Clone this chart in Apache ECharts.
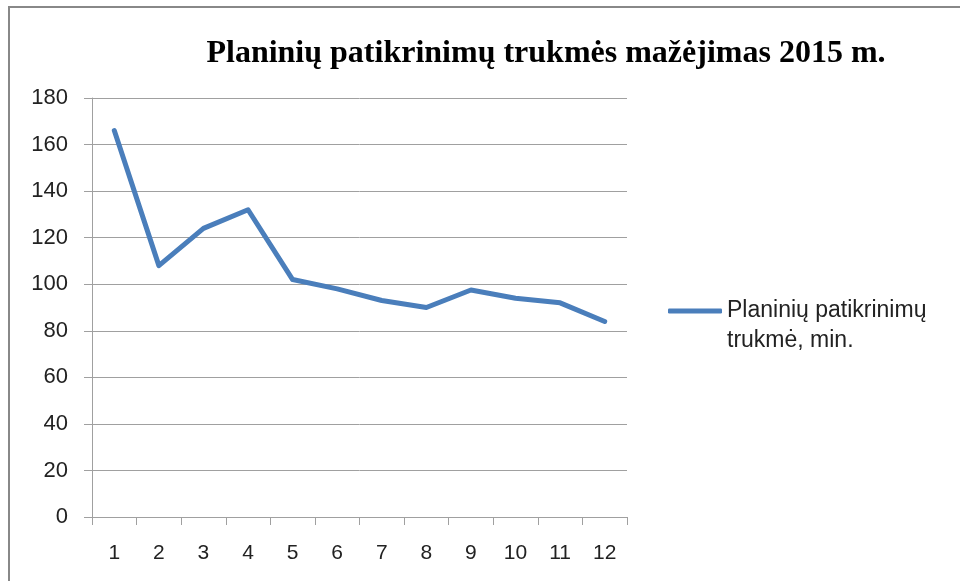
<!DOCTYPE html>
<html>
<head>
<meta charset="utf-8">
<script src="https://cdn.jsdelivr.net/npm/echarts@6/dist/echarts.min.js"></script>
<style>
  html, body { margin: 0; padding: 0; background: #fff; }
  #chart { width: 960px; height: 581px; }
</style>
</head>
<body>
<div id="chart"></div>
<script>
var months = ['1', '2', '3', '4', '5', '6', '7', '8', '9', '10', '11', '12'];
var durations = [166, 108, 124, 132, 102, 98, 93, 90, 97.5, 94, 92, 84];
var seriesName = 'Planinių patikrinimų trukmė, min.';
var titleText = 'Planinių patikrinimų trukmės mažėjimas 2015 m.';

var gray = '#a0a0a0',
    labelColor = '#222',
    lineColor = '#4a7ebb';

var chart = echarts.init(document.getElementById('chart'));

chart.setOption({
    animation: false,
    title: {
        text: titleText,
        left: 541,
        textAlign: 'center',
        top: 33,
        textStyle: {
            fontFamily: 'Liberation Serif',
            fontWeight: 'bold',
            fontSize: 32,
            color: '#000'
        }
    },
    graphic: [{
        type: 'rect',
        shape: { x: 9, y: 7, width: 1000, height: 700 },
        style: { fill: 'none', stroke: '#888', lineWidth: 2 },
        silent: true
    }],
    legend: {
        data: [seriesName],
        left: 668,
        top: 266,
        padding: 0,
        icon: 'roundRect',
        itemWidth: 54,
        itemHeight: 5,
        itemGap: 4,
        itemStyle: { color: lineColor },
        formatter: function() {
            // blank first line keeps the first text line level with the icon
            return ' \nPlaninių patikrinimų\ntrukmė, min.';
        },
        textStyle: {
            fontFamily: 'Liberation Sans',
            fontSize: 23,
            lineHeight: 30,
            color: labelColor
        }
    },
    grid: {
        left: 92,
        right: 333,
        top: 98,
        bottom: 64
    },
    xAxis: {
        type: 'category',
        data: months,
        boundaryGap: true,
        axisLine: { lineStyle: { color: gray, width: 1 } },
        axisTick: { show: true, length: 8, lineStyle: { color: gray } },
        axisLabel: {
            margin: 26,
            fontFamily: 'Liberation Sans',
            fontSize: 21,
            color: labelColor
        },
        splitLine: { show: false }
    },
    yAxis: {
        type: 'value',
        min: 0,
        max: 180,
        interval: 20,
        axisLine: { show: true, lineStyle: { color: gray, width: 1 } },
        axisTick: { show: true, length: 8, lineStyle: { color: gray } },
        axisLabel: {
            margin: 24,
            fontFamily: 'Liberation Sans',
            fontSize: 22,
            color: labelColor
        },
        splitLine: { show: true, lineStyle: { color: gray, width: 1 } }
    },
    series: [{
        name: seriesName,
        type: 'line',
        data: durations,
        symbol: 'none',
        lineStyle: { color: lineColor, width: 5, join: 'round', cap: 'round' },
        itemStyle: { color: lineColor }
    }]
});
</script>
</body>
</html>
